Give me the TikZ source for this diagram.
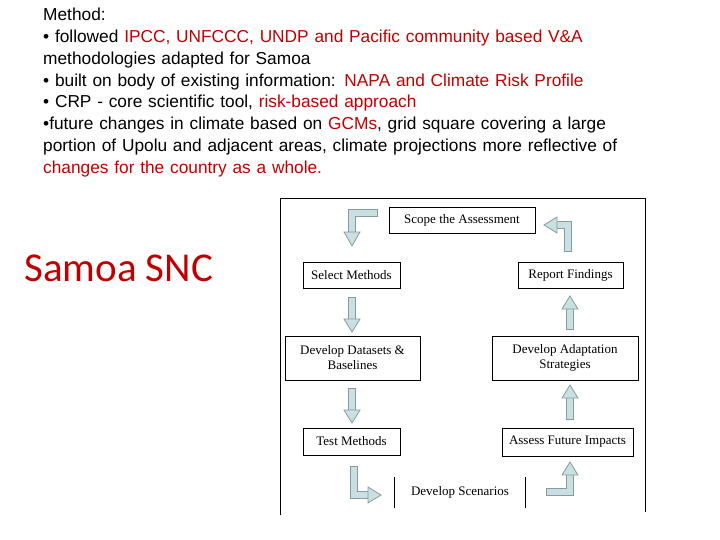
\documentclass[tikz,border=0pt]{standalone}
\usepackage{fontspec}
\setmainfont{Liberation Sans}
\newfontfamily\carl{Carlito}
\newfontfamily\tms{Liberation Serif}
\definecolor{myred}{HTML}{C00000}
\definecolor{afill}{HTML}{C8E0E2}
\definecolor{aline}{HTML}{8A9A9C}
\begin{document}
\begin{tikzpicture}[x=1pt,y=-1pt,
  bx/.style={draw=black,line width=0.8pt,minimum height=26pt,font=\tms\fontsize{13}{15}\selectfont,align=center,inner sep=0pt},
  shaftO/.style={draw=aline,line width=8pt},
  shaftI/.style={draw=afill,line width=6pt},
  headst/.style={fill=afill,draw=aline,line width=0.8pt}]
\useasboundingbox (0,0) rectangle (720,540);
\node[anchor=north west,text width=600pt,align=left,inner sep=0pt,font=\fontsize{17.3}{21.8}\selectfont] (txt) at (43,8)
{\hyphenpenalty=10000 Method:\\
• followed {\color{myred}IPCC, UNFCCC, UNDP and Pacific community based V\&A} methodologies adapted for Samoa\\
• built on body of existing information: {\color{myred}NAPA and Climate Risk Profile}\\
• CRP - core scientific tool, {\color{myred}risk-based approach}\\
•future changes in climate based on {\color{myred}GCMs}, grid square covering a large portion of Upolu and adjacent areas, climate projections more reflective of {\color{myred}changes for the country as a whole.}};
\node[anchor=west,text=myred,font=\carl\fontsize{41}{46}\selectfont,inner sep=0pt] (snc) at (24,268) {Samoa SNC};
% frame
\draw[line width=0.8pt] (280,515) -- (280,198) -- (645,198) -- (645,512);
% boxes
\node[bx,minimum width=146pt] (scope) at (462,220) {Scope the Assessment};
\node[bx,minimum width=97pt] (sel) at (351.5,275) {Select Methods};
\node[bx,minimum width=105pt] (rep) at (570.5,275) {Report Findings};
\node[bx,minimum width=135pt,minimum height=44pt] (dd) at (352.5,358) {Develop Datasets \&\\Baselines};
\node[bx,minimum width=146pt,minimum height=44pt] (da) at (565,358) {Develop Adaptation\\Strategies};
\node[bx,minimum width=97pt,minimum height=27pt] (tm) at (351.5,441.5) {Test Methods};
\node[bx,minimum width=131pt,minimum height=28pt] (af) at (567.5,442) {Assess Future Impacts};
\node[font=\tms\fontsize{13}{15}\selectfont,minimum width=130pt,minimum height=31pt,inner sep=0pt] (ds) at (460,492.5) {Develop Scenarios};
\draw[line width=0.8pt] (ds.north west) -- (ds.south west) (ds.north east) -- (ds.south east);
% arrows
\coordinate (a1) at (378,213); \coordinate (a1b) at (352,213); \coordinate (a1c) at (352,233);
\draw[shaftO] (a1) -- (a1b) -- (a1c); \draw[shaftI] (377,213) -- (a1b) -- (352,234);
\draw[headst] (344,232) -- (360,232) -- (352,246) -- cycle;
\foreach \ya/\yb in {297/319,388/410}{
 \draw[shaftO] (352,\ya) -- (352,\yb); \draw[shaftI] (352,\ya+1) -- (352,\yb+1);
 \draw[headst] (344,\yb) -- (360,\yb) -- (352,\yb+13) -- cycle;}
\draw[shaftO] (354,466) -- (354,495) -- (368,495); \draw[shaftI] (354,467) -- (354,495) -- (369,495);
\draw[headst] (368,487) -- (368,503) -- (381,495) -- cycle;
\draw[shaftO] (546,492) -- (570,492) -- (570,475); \draw[shaftI] (547,492) -- (570,492) -- (570,474);
\draw[headst] (562,475) -- (578,475) -- (570,462) -- cycle;
\foreach \ya/\yb in {420/398,330/309}{
 \draw[shaftO] (570,\ya) -- (570,\yb); \draw[shaftI] (570,\ya-1) -- (570,\yb-1);
 \draw[headst] (562,\yb) -- (578,\yb) -- (570,\yb-13) -- cycle;}
\draw[shaftO] (568,252) -- (568,225) -- (557,225); \draw[shaftI] (568,251) -- (568,225) -- (556,225);
\draw[headst] (557,217) -- (557,233) -- (544,225) -- cycle;
\end{tikzpicture}
\end{document}
